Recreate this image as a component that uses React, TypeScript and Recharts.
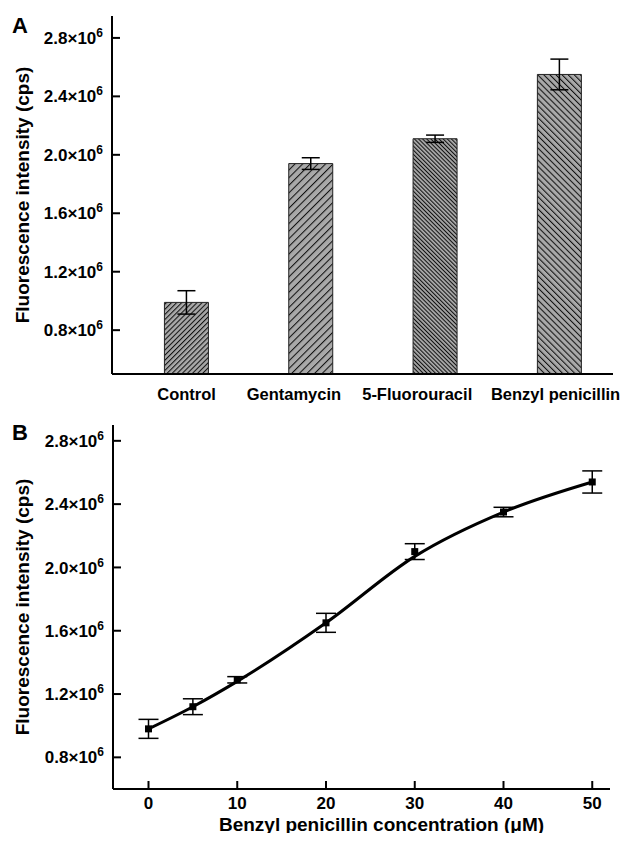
import React from 'react'
import {
  ComposedChart,
  Bar,
  Line,
  Cell,
  XAxis,
  YAxis,
  ErrorBar,
} from 'recharts'

const FONT = '"Liberation Sans", Arial, sans-serif'

// panel A
const drugs = ['Control', 'Gentamycin', '5-Fluorouracil', 'Benzyl penicillin']
const drugIntensity = [0.99e6, 1.94e6, 2.11e6, 2.55e6]
const drugError = [0.08e6, 0.04e6, 0.025e6, 0.105e6]
const yTicks = [0.8e6, 1.2e6, 1.6e6, 2.0e6, 2.4e6, 2.8e6]

// panel B
const concentrations = [0, 5, 10, 20, 30, 40, 50]
const intensity = [0.98e6, 1.12e6, 1.29e6, 1.65e6, 2.1e6, 2.35e6, 2.54e6]
const intensityError = [0.06e6, 0.05e6, 0.02e6, 0.06e6, 0.05e6, 0.03e6, 0.07e6]
const fitted = [0.98e6, 1.12e6, 1.28e6, 1.65e6, 2.07e6, 2.35e6, 2.54e6]
const concTicks = [0, 10, 20, 30, 40, 50]

// hatch: [spacing, angle]
const hatches: [number, number][] = [
  [3.6, 45],
  [5.4, 45],
  [2.9, -45],
  [4.3, -45],
]
// the middle labels sit a bit left of their bars in the original
const labelShift = [0, -17, -18, -4]

const barData = drugs.map((name, i) => ({
  idx: i,
  name,
  value: drugIntensity[i],
  err: drugError[i],
}))

const lineData = concentrations.map((c, i) => ({
  conc: c,
  value: intensity[i],
  err: intensityError[i],
  fit: fitted[i],
}))

function YTick(props: any) {
  const { x, y, payload } = props
  const v = (payload.value / 1e6).toFixed(1)
  return (
    <g>
      <line x1={x + 8} x2={x + 16} y1={y} y2={y} stroke="#000" strokeWidth={2} />
      <text x={x - 1} y={y} dy="0.36em" textAnchor="end" fontFamily={FONT} fontWeight="bold" fontSize={17} fill="#000">
        {v}×10
        <tspan dy={-7} fontSize={12}>6</tspan>
      </text>
    </g>
  )
}

function CatTick(props: any) {
  const { x, y, payload } = props
  return (
    <text
      x={x + labelShift[payload.value]}
      y={y + 18}
      textAnchor="middle"
      fontFamily={FONT}
      fontWeight="bold"
      fontSize={16.5}
      fill="#000"
    >
      {drugs[payload.value]}
    </text>
  )
}

function ConcTick(props: any) {
  const { x, y, payload } = props
  return (
    <g>
      <line x1={x} x2={x} y1={y - 8} y2={y - 16} stroke="#000" strokeWidth={2} />
      <text x={x} y={y + 12} textAnchor="middle" fontFamily={FONT} fontWeight="bold" fontSize={17} fill="#000">
        {payload.value}
      </text>
    </g>
  )
}

function YTitle(props: any) {
  const { viewBox } = props
  const cx = viewBox.x + 22
  const cy = viewBox.y + viewBox.height / 2
  return (
    <text
      x={cx}
      y={cy}
      transform={`rotate(-90 ${cx} ${cy})`}
      textAnchor="middle"
      dominantBaseline="central"
      fontFamily={FONT}
      fontWeight="bold"
      fontSize={19}
      fill="#000"
    >
      Fluorescence intensity (cps)
    </text>
  )
}

function XTitle(props: any) {
  const { viewBox } = props
  return (
    <text
      x={viewBox.x + viewBox.width / 2 + 20}
      y={viewBox.y + viewBox.height - 10}
      textAnchor="middle"
      fontFamily={FONT}
      fontWeight="bold"
      fontSize={19}
      fill="#000"
    >
      Benzyl penicillin concentration (μM)
    </text>
  )
}

function SquareDot(props: any) {
  const { cx, cy } = props
  if (cx == null || cy == null) return null
  return <rect x={cx - 3.5} y={cy - 3.5} width={7} height={7} fill="#000" />
}

const axisLine = { stroke: '#000', strokeWidth: 2 }

export default function App() {
  return (
    <div style={{ position: 'relative', width: 628, height: 841, margin: -8, background: '#fff' }}>
      <div style={{ position: 'absolute', left: 12, top: 13, fontFamily: FONT, fontWeight: 'bold', fontSize: 22 }}>A</div>
      <div style={{ position: 'absolute', left: 12, top: 420, fontFamily: FONT, fontWeight: 'bold', fontSize: 22 }}>B</div>

      <div style={{ position: 'absolute', left: 0, top: 0 }}>
        <ComposedChart width={628} height={420} data={barData} margin={{ top: 16, right: 15, bottom: 0, left: 0 }}>
          <defs>
            {hatches.map(([w, a], i) => (
              <pattern
                key={i}
                id={`hatch${i}`}
                patternUnits="userSpaceOnUse"
                width={w}
                height={w}
                patternTransform={`rotate(${a})`}
              >
                <rect width={w} height={w} fill="#a9a9a9" />
                <line x1={0.5} y1={0} x2={0.5} y2={w} stroke="#111" strokeWidth={1.1} />
              </pattern>
            ))}
          </defs>
          <XAxis
            type="number"
            dataKey="idx"
            domain={[-0.6, 3.43]}
            ticks={[0, 1, 2, 3]}
            height={46}
            axisLine={axisLine}
            tickLine={false}
            tick={<CatTick />}
            allowDataOverflow
          />
          <YAxis
            type="number"
            domain={[0.5e6, 2.95e6]}
            ticks={yTicks}
            width={112}
            axisLine={axisLine}
            tickLine={false}
            tick={<YTick />}
            label={<YTitle />}
            allowDataOverflow
          />
          <Bar dataKey="value" barSize={44} stroke="#222" strokeWidth={1} isAnimationActive={false}>
            {barData.map((d, i) => (
              <Cell key={d.name} fill={`url(#hatch${i})`} />
            ))}
            <ErrorBar dataKey="err" width={9} stroke="#000" strokeWidth={1.5} direction="y" />
          </Bar>
        </ComposedChart>
      </div>

      <div style={{ position: 'absolute', left: 0, top: 420 }}>
        <ComposedChart width={628} height={421} data={lineData} margin={{ top: 5, right: 18, bottom: 0, left: 0 }}>
          <XAxis
            type="number"
            dataKey="conc"
            domain={[-4, 52]}
            ticks={concTicks}
            height={52}
            axisLine={axisLine}
            tickLine={false}
            tick={<ConcTick />}
            label={<XTitle />}
            allowDataOverflow
          />
          <YAxis
            type="number"
            domain={[0.6e6, 2.9e6]}
            ticks={yTicks}
            width={113}
            axisLine={axisLine}
            tickLine={false}
            tick={<YTick />}
            label={<YTitle />}
            allowDataOverflow
          />
          <Line type="monotone" dataKey="fit" stroke="#000" strokeWidth={3} dot={false} isAnimationActive={false} />
          <Line
            dataKey="value"
            stroke="none"
            dot={<SquareDot />}
            activeDot={false}
            isAnimationActive={false}
          >
            <ErrorBar dataKey="err" width={10} stroke="#000" strokeWidth={1.5} direction="y" />
          </Line>
        </ComposedChart>
      </div>
    </div>
  )
}
